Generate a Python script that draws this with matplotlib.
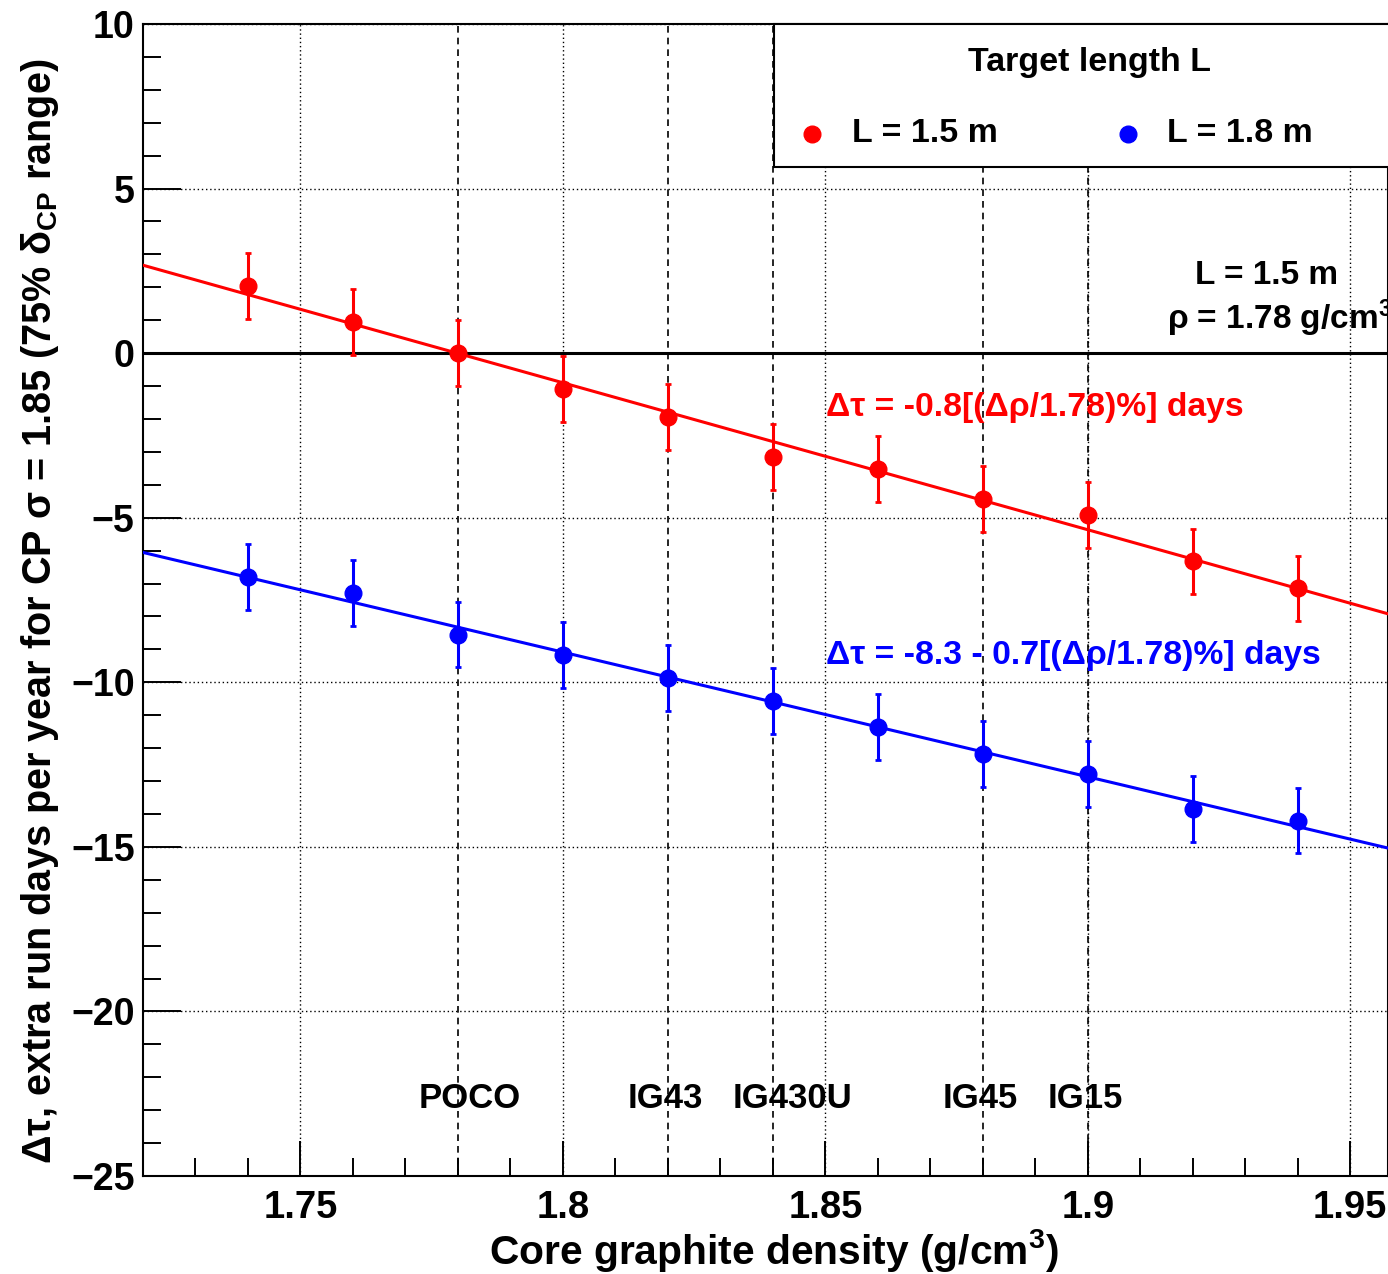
import numpy as np
import matplotlib
matplotlib.use("Agg")
import matplotlib.pyplot as plt
from matplotlib.ticker import MultipleLocator, FuncFormatter
from matplotlib.patches import Rectangle

plt.rcParams['font.family'] = ['Liberation Sans', 'DejaVu Sans']
plt.rcParams['font.weight'] = 'bold'
plt.rcParams['axes.labelweight'] = 'bold'
plt.rcParams['mathtext.fontset'] = 'custom'
plt.rcParams['mathtext.rm'] = 'Liberation Sans:bold'
plt.rcParams['mathtext.it'] = 'Liberation Sans:bold'
plt.rcParams['mathtext.bf'] = 'Liberation Sans:bold'

# core graphite density (g/cm3)
density = [1.74, 1.76, 1.78, 1.80, 1.82, 1.84, 1.86, 1.88, 1.90, 1.92, 1.94]
# extra run days, L = 1.5 m
days_15 = [2.05, 0.95, 0.0, -1.08, -1.93, -3.16, -3.53, -4.44, -4.93, -6.33, -7.15]
err_15 = [1.0, 1.0, 1.0, 1.0, 1.0, 1.0, 1.0, 1.0, 1.0, 1.0, 1.0]
# extra run days, L = 1.8 m
days_18 = [-6.81, -7.29, -8.55, -9.18, -9.86, -10.56, -11.35, -12.17, -12.78, -13.84, -14.20]
err_18 = [1.0, 1.0, 1.0, 1.0, 1.0, 1.0, 1.0, 1.0, 1.0, 1.0, 1.0]

# graphite grades and their densities
grades = ['POCO', 'IG43', 'IG430U', 'IG45', 'IG15']
grade_density = [1.78, 1.82, 1.84, 1.88, 1.90]
grade_shift = [0.0023, -0.0005, 0.0038, -0.0005, -0.0005]  # label nudges

RED = '#ff0000'
BLUE = '#0000ff'


def px_to_axes(xpx, ypx):
    # reference pixel position -> axes fraction
    return (xpx - 143) / 1245.0, 1 - (ypx - 24) / 1152.0


def main():
    fig = plt.figure(figsize=(13.88, 12.74), dpi=100)
    ax = fig.add_axes([143 / 1388, 1 - 1176 / 1274, 1 - 143 / 1388, 1152 / 1274])
    ax.set_xlim(1.72, 1.9572)
    ax.set_ylim(-25, 10)

    ax.xaxis.set_major_locator(MultipleLocator(0.05))
    ax.xaxis.set_minor_locator(MultipleLocator(0.01))
    ax.yaxis.set_major_locator(MultipleLocator(5))
    ax.yaxis.set_minor_locator(MultipleLocator(1))
    ax.xaxis.set_major_formatter(FuncFormatter(lambda v, p: '%g' % round(v, 3)))
    ax.yaxis.set_major_formatter(FuncFormatter(lambda v, p: ('%g' % v).replace('-', '\u2212')))
    ax.tick_params(which='both', direction='in', top=False, right=False, width=1.4, colors='black')
    ax.tick_params(axis='x', which='major', length=25, labelsize=27.5, pad=10)
    ax.tick_params(axis='x', which='minor', length=13)
    ax.tick_params(axis='y', which='major', length=27, labelsize=27, pad=6)
    ax.tick_params(axis='y', which='minor', length=13)
    for s in ax.spines.values():
        s.set_linewidth(1.5)

    ax.grid(True, which='major', linestyle=(0, (1, 2)), color='black', linewidth=1.0)
    ax.set_axisbelow(True)

    # graphite grade markers
    for g, d, sh in zip(grades, grade_density, grade_shift):
        ax.axvline(d, color='black', linestyle=(0, (4, 3)), linewidth=1.2, zorder=1)
        ax.text(d + sh, -22.66, g, fontsize=25, ha='center', va='center')

    ax.axhline(0, color='black', linewidth=2.2, zorder=2)

    # linear fits
    xfit = np.array(ax.get_xlim())
    for y, c in ((days_15, RED), (days_18, BLUE)):
        k, b = np.polyfit(density, y, 1)
        ax.plot(xfit, k * xfit + b, color=c, linewidth=2.2, zorder=3)

    ax.errorbar(density, days_15, yerr=err_15, fmt='o', color=RED, markersize=12,
                elinewidth=2.2, capsize=2.2, capthick=2, zorder=4)
    ax.errorbar(density, days_18, yerr=err_18, fmt='o', color=BLUE, markersize=12,
                elinewidth=2.2, capsize=2.2, capthick=2, zorder=4)

    ax.text(1.8501, -1.66, 'Δτ = -0.8[(Δρ/1.78)%] days', color=RED, fontsize=24.3, va='center')
    ax.text(1.8501, -9.19, 'Δτ = -8.3 - 0.7[(Δρ/1.78)%] days', color=BLUE, fontsize=24.3, va='center')
    ax.text(1.9341, 2.36, 'L = 1.5 m', fontsize=24, ha='center', va='center')
    ax.text(1.9151, 1.05, 'ρ = 1.78 g/cm$^{3}$', fontsize=24, ha='left', va='center')

    # legend box (cut by the right edge, as in the original)
    x0, y0 = px_to_axes(774, 167)
    ax.add_patch(Rectangle((x0, y0), 0.6, 1 - y0, transform=ax.transAxes, facecolor='white',
                           edgecolor='black', linewidth=1.5, clip_on=False, zorder=6))
    tx, ty = px_to_axes(1090, 63)
    ax.text(tx, ty, 'Target length L', transform=ax.transAxes, fontsize=24.5,
            ha='center', va='center', zorder=7)
    for mx, lx, lab, c in ((812, 852, 'L = 1.5 m', RED), (1128, 1167, 'L = 1.8 m', BLUE)):
        mxa, mya = px_to_axes(mx, 134)
        lxa, _ = px_to_axes(lx, 134)
        ax.plot([mxa], [mya], 'o', color=c, markersize=12, transform=ax.transAxes,
                clip_on=False, zorder=7)
        ax.text(lxa, mya, lab, transform=ax.transAxes, fontsize=24.5, ha='left',
                va='center', zorder=7)

    ax.set_xlabel('Core graphite density (g/cm$^{3}$)', fontsize=29.3, va='center')
    ax.xaxis.set_label_coords(0.5065, (1176 - 1250) / 1152.0)
    ax.set_ylabel('Δτ, extra run days per year for CP σ = 1.85 (75% δ$_{\\mathrm{CP}}$ range)',
                  fontsize=28.5, va='center')
    ax.yaxis.set_label_coords((40 - 143) / 1245.0, 0.49)

    fig.savefig('out.png', dpi=100, facecolor='white')


if __name__ == "__main__":
    main()
